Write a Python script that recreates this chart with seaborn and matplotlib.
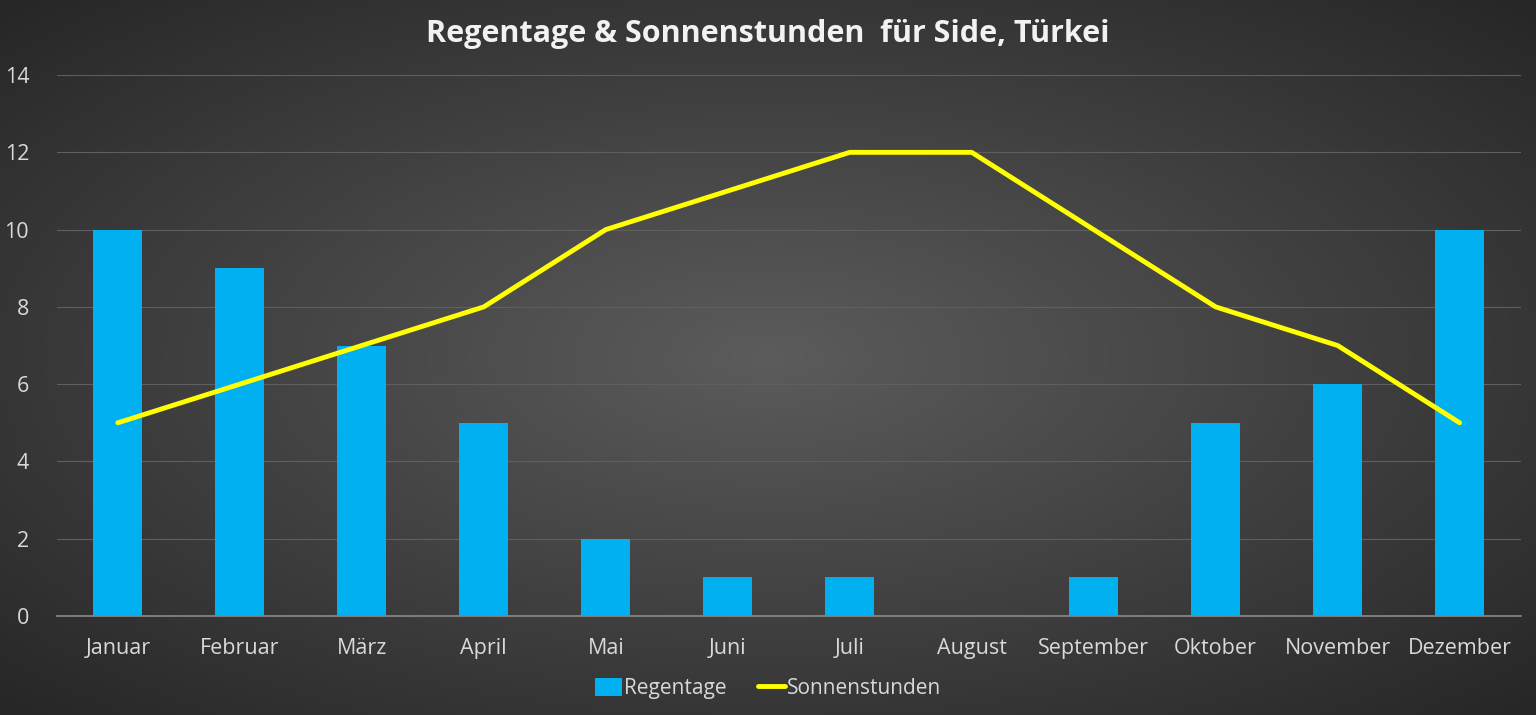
import numpy as np
import pandas as pd
import matplotlib
matplotlib.use("Agg")
import matplotlib.pyplot as plt
import seaborn as sns
from matplotlib.patches import Patch
from matplotlib.lines import Line2D

months = ["Januar", "Februar", "März", "April", "Mai", "Juni", "Juli",
          "August", "September", "Oktober", "November", "Dezember"]
regentage = [10, 9, 7, 5, 2, 1, 1, 0, 1, 5, 6, 10]
sonnenstunden = [5, 6, 7, 8, 10, 11, 12, 12, 10, 8, 7, 5]

BAR_COLOR = "#00B0F0"
LINE_COLOR = "#FFFF00"
TEXT_COLOR = "#D9D9D9"

sns.set_style("dark")
plt.rcParams["font.family"] = ["Open Sans", "DejaVu Sans"]

df = pd.DataFrame({"Monat": months, "Regentage": regentage,
                   "Sonnenstunden": sonnenstunden, "pos": np.arange(len(months))})

fig = plt.figure(figsize=(15.36, 7.15), dpi=100)

# radial gradient background
bg = fig.add_axes([0, 0, 1, 1], zorder=-10)
yy, xx = np.mgrid[-1:1:300j, -1:1:600j]
r = np.sqrt(xx ** 2 + yy ** 2) / np.sqrt(2)
shade = 0.36 - 0.21 * np.clip(r, 0, 1)
bg.imshow(np.dstack([shade] * 3), aspect="auto", extent=[0, 1, 0, 1])
bg.set_axis_off()

ax = fig.add_axes([0.037, 0.1385, 0.953, 0.7565])
ax.set_facecolor("none")

sns.barplot(data=df, x="pos", y="Regentage", color=BAR_COLOR, width=0.4,
            saturation=1, edgecolor="none", linewidth=0, ax=ax, zorder=3)
sns.lineplot(data=df, x="pos", y="Sonnenstunden", color=LINE_COLOR,
             linewidth=3.5, ax=ax, zorder=4)

ax.set_xlim(-0.5, 11.5)
ax.set_ylim(0, 14)
ax.set_yticks(range(0, 15, 2))
ax.set_xticks(range(12))
ax.set_xticklabels(months)
ax.set_xlabel("")
ax.set_ylabel("")
ax.grid(axis="y", color="#5f5f5f", linewidth=0.8)
ax.grid(axis="x", visible=False)
ax.tick_params(axis="both", colors=TEXT_COLOR, labelsize=15.5, length=0)
ax.tick_params(axis="x", pad=16)
ax.tick_params(axis="y", pad=20)
for lab in ax.get_xticklabels() + ax.get_yticklabels():
    lab.set_color(TEXT_COLOR)
for side in ["top", "right", "left"]:
    ax.spines[side].set_visible(False)
ax.spines["bottom"].set_color("#8a8a8a")
ax.spines["bottom"].set_linewidth(1.2)
ax.set_axisbelow(True)

fig.text(0.5, 0.953, "Regentage & Sonnenstunden  für Side, Türkei", ha="center",
         va="center", fontsize=22, fontweight="bold", color="#F2F2F2")

handles = [Patch(facecolor=BAR_COLOR, edgecolor="none"),
           Line2D([0], [0], color=LINE_COLOR, linewidth=3.5)]
fig.legend(handles, ["Regentage", "Sonnenstunden"], loc="center",
           bbox_to_anchor=(0.5, 0.037), ncol=2, frameon=False, fontsize=15,
           labelcolor=TEXT_COLOR, handlelength=1.3, handleheight=0.9,
           handletextpad=0.1, columnspacing=1.5)

fig.savefig("out.png", dpi=100)
